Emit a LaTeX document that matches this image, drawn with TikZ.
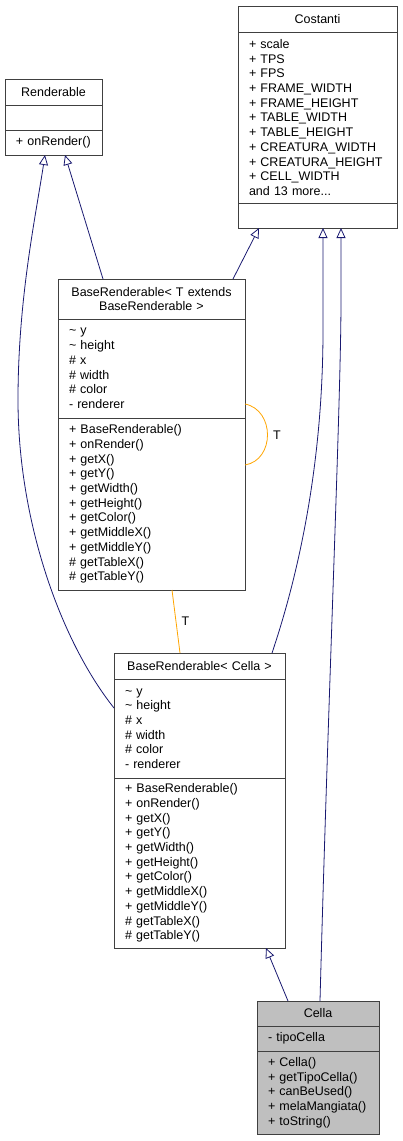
\documentclass[tikz,border=0pt]{standalone}
\usepackage{fontspec}
\setmainfont{Liberation Sans}
\usepackage{tikz}
\usetikzlibrary{positioning,arrows.meta,shapes}
\usepackage{xcolor}
\definecolor{edgeblue}{RGB}{25,25,112}
\definecolor{tmplorange}{RGB}{255,165,0}
\definecolor{boxgray}{RGB}{64,64,64}
\definecolor{cellfill}{RGB}{191,191,191}
\tikzset{
  part/.style 2 args={draw=boxgray,line width=1pt,fill=white,outer sep=0pt,inner xsep=11pt,inner ysep=0pt,text width=#1,minimum height=#2,align=left},
  head/.style 2 args={part={#1}{#2},align=center},
  inherit/.style={draw=edgeblue,line width=0.8pt,-{Triangle[open,length=10pt,width=9pt]}},
  tmpl/.style={draw=tmplorange,line width=0.8pt}
}
\begin{document}
\begin{tikzpicture}[x=1pt,y=-1pt,font=\fontsize{12.5}{14.7}\selectfont]
\useasboundingbox (0,0) rectangle (403,1141);
% Costanti
\node[head={137pt}{26pt},anchor=north west] (cost) at (238,6) {Costanti};
\node[part={137pt}{171pt}] (cost-a) [below=0pt of cost] {+~scale\\+~TPS\\+~FPS\\+~FRAME\_WIDTH\\+~FRAME\_HEIGHT\\+~TABLE\_WIDTH\\+~TABLE\_HEIGHT\\+~CREATURA\_WIDTH\\+~CREATURA\_HEIGHT\\+~CELL\_WIDTH\\and~13~more...};
\node[part={137pt}{25pt}] (cost-o) [below=0pt of cost-a] {};
% Renderable
\node[head={75pt}{26pt},anchor=north west] (rend) at (5,79) {Renderable};
\node[part={75pt}{25pt}] (rend-a) [below=0pt of rend] {};
\node[part={75pt}{25pt}] (rend-o) [below=0pt of rend-a] {+~onRender()};
% BaseRenderable< T >
\node[head={165pt}{40pt},anchor=north west] (brt) at (58,279) {BaseRenderable<~T~extends\\BaseRenderable~>};
\node[part={165pt}{99pt}] (brt-a) [below=0pt of brt] {\textasciitilde~y\\\textasciitilde~height\\\#~x\\\#~width\\\#~color\\-~renderer};
\node[part={165pt}{172pt}] (brt-o) [below=0pt of brt-a] {+~BaseRenderable()\\+~onRender()\\+~getX()\\+~getY()\\+~getWidth()\\+~getHeight()\\+~getColor()\\+~getMiddleX()\\+~getMiddleY()\\\#~getTableX()\\\#~getTableY()};
% BaseRenderable< Cella >
\node[head={149pt}{26pt},anchor=north west] (brc) at (114,653) {BaseRenderable<~Cella~>};
\node[part={149pt}{99pt}] (brc-a) [below=0pt of brc] {\textasciitilde~y\\\textasciitilde~height\\\#~x\\\#~width\\\#~color\\-~renderer};
\node[part={149pt}{170pt}] (brc-o) [below=0pt of brc-a] {+~BaseRenderable()\\+~onRender()\\+~getX()\\+~getY()\\+~getWidth()\\+~getHeight()\\+~getColor()\\+~getMiddleX()\\+~getMiddleY()\\\#~getTableX()\\\#~getTableY()};
% Cella
\node[head={100pt}{25pt},fill=cellfill,anchor=north west] (cella) at (257,1001) {Cella};
\node[part={100pt}{25pt},fill=cellfill] (cella-a) [below=0pt of cella] {-~tipoCella};
\node[part={100pt}{83pt},fill=cellfill] (cella-o) [below=0pt of cella-a] {+~Cella()\\+~getTipoCella()\\+~canBeUsed()\\+~melaMangiata()\\+~toString()};
% inheritance
\draw[inherit] ([yshift=20.5pt]brc-a.west) .. controls (60,640) and (18,520) .. (18,400) .. controls (18,300) and (35,220) .. ([xshift=-8.5pt]rend-o.south);
\draw[inherit] ([xshift=-48.5pt]brt.north) -- ([xshift=11.5pt]rend-o.south);
\draw[inherit] ([xshift=81.5pt]brt.north) -- ([xshift=-58.5pt]cost-o.south);
\draw[inherit] ([xshift=72.5pt]brc.north) .. controls (300,570) and (323,460) .. (323,330) -- ([xshift=5.5pt]cost-o.south);
\draw[inherit] ([xshift=2pt]cella.north) .. controls (328,700) and (341,400) .. (341,300) -- ([xshift=23.5pt]cost-o.south);
\draw[inherit] ([xshift=-30pt]cella.north) -- ([xshift=66.5pt]brc-o.south);
% template
\draw[tmpl] ([yshift=-35.5pt]brt-a.east) .. controls (275,410) and (275,460) .. ([yshift=39pt]brt-o.east) node[pos=0.5,right=2pt] {T};
\draw[tmpl] ([xshift=20.5pt]brt-o.south) -- ([xshift=-19.5pt]brc.north) node[midway,right=2pt] {T};
\end{tikzpicture}
\end{document}
